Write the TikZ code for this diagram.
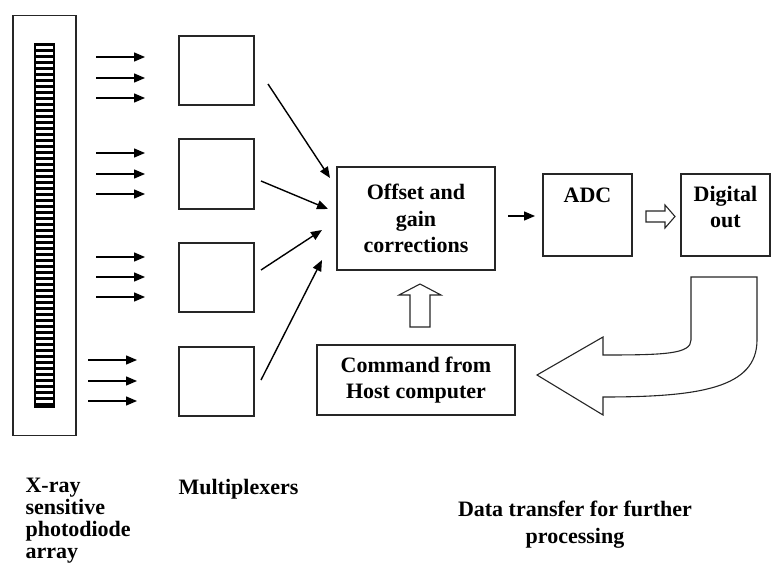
\documentclass[tikz,border=0pt]{standalone}
\usepackage{fontspec}
\setmainfont{Liberation Serif}
\usetikzlibrary{arrows.meta}
\begin{document}
\begin{tikzpicture}[x=1pt,y=-1pt,
  line width=1.2pt,
  box/.style args={#1/#2}{draw=black!85, line width=1.2pt, minimum width=#1pt,
    minimum height=#2pt, inner sep=0pt, align=center,
    font=\bfseries\fontsize{22}{26.5}\selectfont},
  lbl/.style={inner sep=0pt, font=\bfseries\fontsize{22}{26.5}\selectfont},
  sig/.style={draw=black, line width=1.4pt, -{Triangle[length=11pt,width=9pt]}},
  hollow/.style={draw=black!85, line width=1.1pt, fill=white, line join=miter}]
\useasboundingbox (0,0) rectangle (771,564);

% photodiode array: housing and striped sensor strip
\node[box=63/420] (array) at (44.5,225.5) {};
\fill[black] (34,43) rectangle (55,408);
\foreach \i in {0,...,59}
  \fill[white] (36,46+6*\i) rectangle (53,49+6*\i);

% multiplexers
\node[box=75/69] (mux1) at (216.5,70.5) {};
\node[box=75/70] (mux2) at (216.5,174) {};
\node[box=75/69] (mux3) at (216.5,277.5) {};
\node[box=75/69] (mux4) at (216.5,381.5) {};

% diode outputs feeding the multiplexers
\foreach \y [count=\k] in {57,78,98,153,174,194,257,277,297} {
  \coordinate (in\k a) at (96,\y);
  \coordinate (in\k b) at (145,\y);
  \draw[sig] (in\k a) -- (in\k b);
}
\foreach \y [count=\k from 10] in {360,381,401} {
  \coordinate (in\k a) at (88,\y);
  \coordinate (in\k b) at (137,\y);
  \draw[sig] (in\k a) -- (in\k b);
}

% processing blocks
\node[box=158/103] (corr) at (416,218.5) {Offset and\\gain\\corrections};
\node[box=89/82] (adc) at (587.5,215) {};
\node[lbl, anchor=base] (adct) at (587.5,203) {ADC};
\node[box=89/82] (dout) at (725.5,215) {};
\node[lbl, anchor=base, align=center] (doutt) at (725.5,228) {Digital\\out};
\node[box=198/70] (cmd) at (416,380) {Command from\\Host computer};

% multiplexer outputs into the correction block
\coordinate (m1o) at (268,84);   \coordinate (c1) at (330,178);
\coordinate (m2o) at (261,181);  \coordinate (c2) at (328,209);
\coordinate (m3o) at (261,270);  \coordinate (c3) at (322,230);
\coordinate (m4o) at (261,380);  \coordinate (c4) at (322,260);
\draw[sig] (m1o) -- (c1);
\draw[sig] (m2o) -- (c2);
\draw[sig] (m3o) -- (c3);
\draw[sig] (m4o) -- (c4);

% correction block to ADC
\coordinate (co) at (508,216);
\coordinate (ai) at (535,216);
\draw[sig] (co) -- (ai);

% hollow arrow ADC -> digital out
\draw[hollow] (646,211) -- (665,211) -- (665,205) -- (675,216.5) -- (665,228)
  -- (665,222) -- (646,222) -- cycle;

% hollow arrow host command -> correction block
\draw[hollow] (410,327) -- (410,295) -- (399,295) -- (420,284) -- (441,295)
  -- (430,295) -- (430,327) -- cycle;

% curved hollow arrow: data transfer back out
\draw[hollow] (691,277) -- (757,277) -- (757,340)
  .. controls (757,388) and (700,397) .. (603,397)
  -- (603,415) -- (537,375) -- (603,337) -- (603,355)
  .. controls (665,355) and (691,354) .. (691,340) -- cycle;

% captions
\node[lbl, anchor=base west, align=left, font=\bfseries\fontsize{22}{22}\selectfont]
  (capA) at (25,558) {X-ray\\sensitive\\photodiode\\array};
\node[lbl, anchor=base west] (capM) at (178,494) {Multiplexers};
\node[lbl, anchor=base, align=center] (capD) at (575,543) {Data transfer for further\\processing};
\end{tikzpicture}
\end{document}
